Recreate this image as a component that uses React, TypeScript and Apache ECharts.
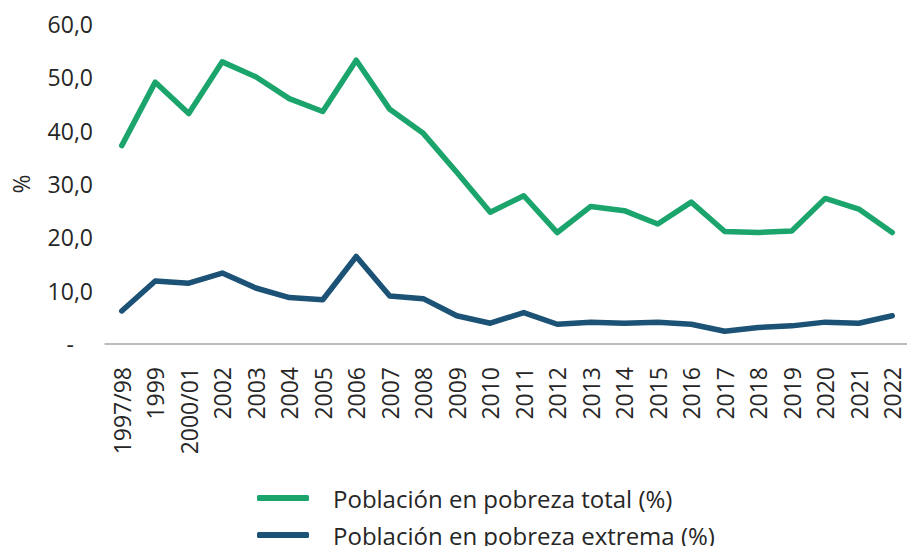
import React, { useEffect, useRef } from "react";
import * as echarts from "echarts";

const categories = [
  "1997/98", "1999", "2000/01", "2002", "2003", "2004", "2005", "2006", "2007", "2008",
  "2009", "2010", "2011", "2012", "2013", "2014", "2015", "2016", "2017", "2018",
  "2019", "2020", "2021", "2022",
];

const pobrezaTotal = [
  37.2, 49.1, 43.2, 52.9, 50.1, 46.0, 43.6, 53.2, 44.0, 39.5,
  32.2, 24.7, 27.8, 20.9, 25.8, 25.0, 22.5, 26.6, 21.1, 20.9,
  21.2, 27.3, 25.3, 20.9,
];

const pobrezaExtrema = [
  6.2, 11.8, 11.4, 13.3, 10.5, 8.7, 8.3, 16.4, 9.0, 8.5,
  5.3, 3.9, 5.9, 3.7, 4.1, 3.9, 4.1, 3.7, 2.4, 3.1,
  3.4, 4.1, 3.9, 5.3,
];

const seriesNames = ["Población en pobreza total (%)", "Población en pobreza extrema (%)"];
const yTicks = { min: 0, max: 60, interval: 10 };

const FONT = "'Open Sans', sans-serif";
const TEXT = "#262626";
const GREEN = "#1ba56d";
const BLUE = "#1b5275";

const legendBase = {
  orient: "horizontal",
  left: 257,
  padding: 0,
  itemWidth: 52,
  itemHeight: 6,
  icon: "roundRect",
  textStyle: { fontFamily: FONT, fontSize: 24, color: TEXT, padding: [0, 0, 6, 19] },
};

export default function App() {
  const ref = useRef<HTMLDivElement>(null);
  useEffect(() => {
    if (!ref.current) return;
    const chart = echarts.init(ref.current, undefined, { renderer: "svg" });
    chart.setOption({
      animation: false,
      textStyle: { fontFamily: FONT, color: TEXT },
      grid: { left: 105, right: -2, top: 24, bottom: 202, containLabel: false, outerBoundsMode: "none" },
      legend: [
        { ...legendBase, top: 486, data: [seriesNames[0]] },
        { ...legendBase, top: 523, data: [seriesNames[1]] },
      ],
      xAxis: {
        type: "category",
        data: categories,
        boundaryGap: true,
        axisLine: { show: true, lineStyle: { color: "#a6a6a6", width: 1.5 } },
        axisTick: { show: false },
        axisLabel: {
          rotate: 90,
          interval: 0,
          margin: 23,
          fontSize: 23,
          fontFamily: FONT,
          color: TEXT,
        },
      },
      yAxis: {
        type: "value",
        min: yTicks.min,
        max: yTicks.max,
        interval: yTicks.interval,
        name: "%",
        nameLocation: "middle",
        nameGap: 73,
        nameRotate: 90,
        nameTextStyle: { fontSize: 23, fontFamily: FONT, color: TEXT },
        axisLine: { show: false },
        axisTick: { show: false },
        splitLine: { show: false },
        axisLabel: {
          margin: 12,
          fontSize: 23,
          fontFamily: FONT,
          color: TEXT,
          formatter: (v: number) => (v === 0 ? "{z|-}" : v.toFixed(1).replace(".", ",")),
          rich: {
            z: { fontSize: 23, fontFamily: FONT, color: TEXT, padding: [0, 19, 0, 0] },
          },
        },
      },
      series: [
        {
          name: seriesNames[0],
          type: "line",
          data: pobrezaTotal,
          showSymbol: false,
          symbol: "none",
          lineStyle: { color: GREEN, width: 5.5, cap: "round", join: "round" },
          itemStyle: { color: GREEN },
        },
        {
          name: seriesNames[1],
          type: "line",
          data: pobrezaExtrema,
          showSymbol: false,
          symbol: "none",
          lineStyle: { color: BLUE, width: 5.5, cap: "round", join: "round" },
          itemStyle: { color: BLUE },
        },
      ],
    });
    return () => chart.dispose();
  }, []);
  return <div ref={ref} style={{ width: 907, height: 546, position: "absolute", left: 0, top: 0 }} />;
}
